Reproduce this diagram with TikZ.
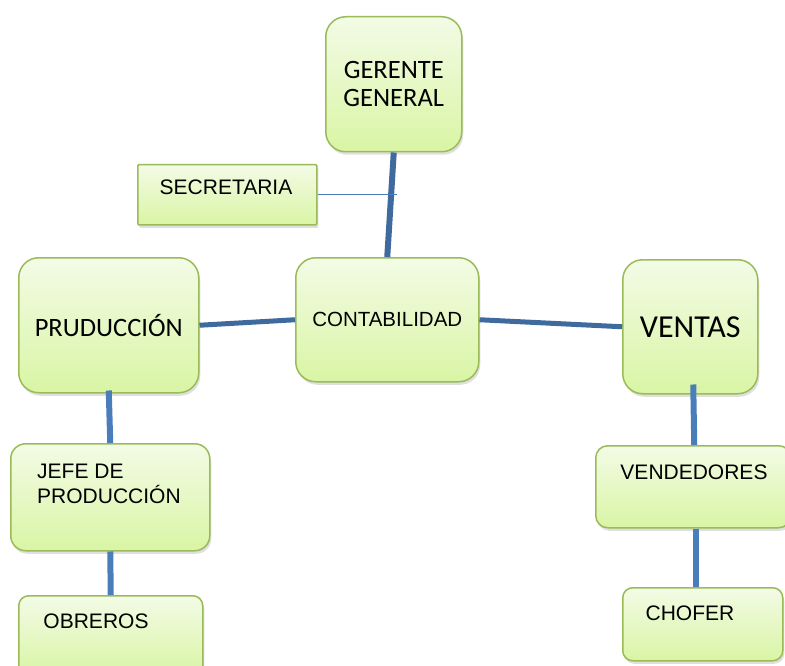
\documentclass[tikz,border=0pt]{standalone}
\usepackage{fontspec}
\setmainfont{Liberation Sans}
\newfontfamily\calfont{Carlito}
\usetikzlibrary{shadows,calc}
\definecolor{boxedge}{HTML}{9BBB59}
\definecolor{boxtop}{HTML}{F3FBE6}
\definecolor{boxbot}{HTML}{D9F5A4}
\definecolor{lineblue}{HTML}{3F6A9E}
\definecolor{lineblue2}{HTML}{4A7EBB}
\tikzset{
  box/.style={draw=boxedge, line width=1.5pt, top color=boxtop, bottom color=boxbot,
    inner sep=0pt, anchor=north west,
    drop shadow={shadow xshift=1.5pt, shadow yshift=-3pt, opacity=0.25}},
  arial/.style={font=\fontsize{21}{25}\selectfont, inner sep=0pt},
  calib/.style={font=\calfont\fontsize{26.5}{28}\selectfont, align=center},
  link/.style={draw=lineblue, line width=5pt},
  linkv/.style={draw=lineblue2, line width=6pt},
  thinlink/.style={draw=lineblue2, line width=1.5pt}
}
\begin{document}
\begin{tikzpicture}[x=1pt,y=-1pt]
\useasboundingbox (0,0) rectangle (785,666);
% boxes
\node[box, rounded corners=20pt, minimum width=136pt, minimum height=135pt, calib] (ger) at (325,16) {GERENTE\\GENERAL};
\node[box, rounded corners=1pt, minimum width=179pt, minimum height=60pt] (sec) at (137,164) {};
\node[box, rounded corners=20pt, minimum width=180pt, minimum height=135pt, calib, font=\calfont\fontsize{26.5}{30}\selectfont] (prud) at (18,257) {PRUDUCCIÓN};
\node[box, rounded corners=20pt, minimum width=183pt, minimum height=124pt, font=\fontsize{20.5}{25}\selectfont] (cont) at (295,257) {CONTABILIDAD};
\node[box, rounded corners=20pt, minimum width=135pt, minimum height=134pt, calib, font=\calfont\fontsize{32}{36}\selectfont] (ventas) at (622,259) {VENTAS};
\node[box, rounded corners=15pt, minimum width=199pt, minimum height=107pt] (jefe) at (10,443) {};
\node[box, rounded corners=12pt, minimum width=195pt, minimum height=82pt] (vend) at (595,445) {};
\node[box, rounded corners=10pt, minimum width=184pt, minimum height=80pt] (obr) at (18,595) {};
\node[box, rounded corners=10pt, minimum width=160pt, minimum height=73pt] (chof) at (622,587) {};
% labels
\node[arial] (secT) at (226,187) {SECRETARIA};
\node[arial, anchor=west, align=left] (jefeT) at (37,484) {JEFE DE\\PRODUCCIÓN};
\node[arial] (vendT) at (694,472) {VENDEDORES};
\node[arial] (obrT) at (96,621) {OBREROS};
\node[arial] (chofT) at (690,613) {CHOFER};
% connectors
\coordinate (secEnd) at (397,194);
\draw[linkv, draw=lineblue] (ger.south) -- (cont.north);
\draw[thinlink] (sec.east) -- (sec.east -| secEnd);
\draw[link] (prud.east) -- (cont.west);
\draw[link] (cont.east) -- (ventas.west);
\draw[linkv] ([yshift=3pt]prud.south) -- (jefe.north);
\draw[linkv] (jefe.south) -- (obr.north);
\draw[linkv] ([yshift=10pt,xshift=3pt]ventas.south) -- ([xshift=1pt]vend.north);
\draw[linkv] ([xshift=3pt]vend.south) -- ([xshift=3pt]vend.south |- chof.north);
\end{tikzpicture}
\end{document}
